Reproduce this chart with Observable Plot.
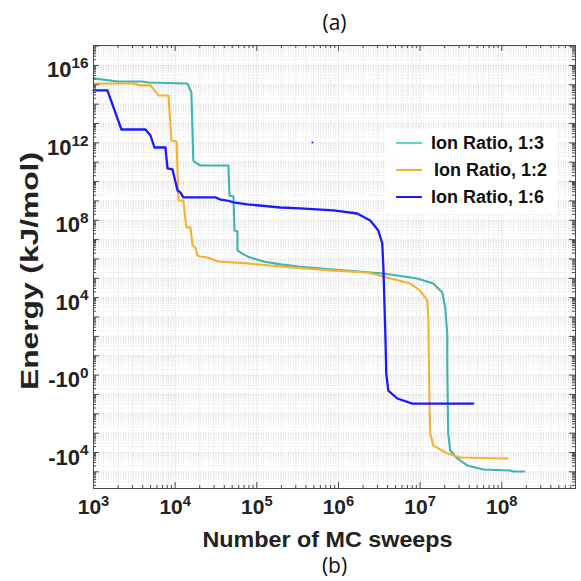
<!DOCTYPE html>
<html><head><meta charset="utf-8">
<script src="https://cdn.jsdelivr.net/npm/d3@7"></script>
<script src="https://cdn.jsdelivr.net/npm/@observablehq/plot@0.6"></script>
<style>
html,body{margin:0;padding:0;background:#fff;}
#wrap{position:relative;width:581px;height:581px;overflow:hidden;}
#legend{position:absolute;left:386px;top:128px;width:172px;height:86px;background:#fff;font:bold 18px "Liberation Sans",Arial,sans-serif;color:#111;}
.item{position:absolute;left:0;height:22px;display:flex;align-items:center;white-space:nowrap;}
.swatch{width:26px;height:0;border-top:2.5px solid;margin-left:10px;margin-right:9px;}
</style></head><body>
<div id="wrap"><div id="chart"></div><div id="legend"></div></div>
<script>
// ---- data (x = number of MC sweeps, y = decade position on the energy axis) ----
const seriesNames = ["Ion Ratio, 1:3", "Ion Ratio, 1:2", "Ion Ratio, 1:6"];
const seriesColors = ["#3db6ad", "#f4b234", "#1a1aff"];
const legendColors = ["#4fd8d0", "#f4b234", "#1a1aff"];

const sweeps13 = [1000,1970,3980,4710,14100,15800,16700,17700,20400,44900,46200,51800,53200,57900,57900,66700,76700,90800,121000,195000,342000,796000,3.55e6,9.25e6,1.45e7,1.87e7,2.03e7,2.15e7,2.15e7,2.21e7,2.34e7,2.85e7,3.78e7,5.94e7,1.27e8,1.38e8,1.88e8];
const energy13 = [15.33,15.17,15.17,15.12,15.07,14.60,11.09,10.99,10.83,10.83,9.28,9.23,7.47,7.42,6.44,6.28,6.13,6.03,5.87,5.72,5.60,5.46,5.25,4.99,4.73,4.27,3.49,2.15,0.39,-3.02,-3.90,-4.31,-4.67,-4.88,-4.93,-4.98,-4.98];

const sweeps12 = [1000,3090,3760,4990,6250,8280,9020,10400,11000,12600,13700,15400,16300,17700,18700,20400,24800,33900,76700,195000,796000,2.26e6,7.59e6,1.00e7,1.22e7,1.26e7,1.30e7,1.33e7,1.45e7,2.15e7,3.10e7,1.17e8];
const energy12 = [15.07,15.07,14.97,14.97,14.45,14.45,12.12,12.07,9.02,9.02,7.63,7.63,6.70,6.59,6.18,6.13,6.08,5.87,5.77,5.61,5.41,5.30,4.73,4.37,3.86,2.98,-1.31,-3.02,-3.64,-4.05,-4.26,-4.31];

const sweeps16 = [1000,1480,2200,4330,4990,5580,7600,8050,9270,10700,11600,12600,31100,35800,43700,51800,76700,195000,342000,867000,1.70e6,2.45e6,3.08e6,3.44e6,3.55e6,3.75e6,3.85e6,4.08e6,5.26e6,8.04e6,4.48e7];
const energy16 = [14.71,14.71,12.69,12.69,12.38,11.76,11.76,10.68,10.63,9.54,9.44,9.18,9.18,9.07,9.02,8.92,8.82,8.66,8.61,8.51,8.35,7.99,7.47,6.80,5.56,2.15,0.08,-0.80,-1.21,-1.47,-1.47];

const strayX = [4.8e5];
const strayY = [12.02];

const xTicks = [1e3,1e4,1e5,1e6,1e7,1e8];
const xTickLabels = ["10^3","10^4","10^5","10^6","10^7","10^8"];
const yTicks = [16,12,8,4,0,-4];
const yTickLabels = ["10^16","10^12","10^8","10^4","-10^0","-10^4"];

// ---- derived tables ----
const series = [[sweeps13, energy13],[sweeps12, energy12],[sweeps16, energy16]];
const rows = series.map(([xs, ys], i) => xs.map((x, j) => ({x, y: ys[j], s: seriesNames[i]})));

const xDomain = [1e3, 8e8], yDomain = [-5.86, 17.03];
const xMinor = [], xDecades = [];
for (let d = 3; d <= 8; d++) { xDecades.push(10 ** d); for (let k = 2; k <= 9; k++) { const v = k * 10 ** d; if (v < xDomain[1]) xMinor.push(v); } }
const yDecades = [], yMinor = [];
for (let d = -6; d <= 17; d++) { if (d >= yDomain[0] && d <= yDomain[1]) yDecades.push(d); for (let k = 2; k <= 9; k++) { const v = d + Math.log10(k); if (v > yDomain[0] && v < yDomain[1]) yMinor.push(v); } }

const W = 581, H = 581, mL = 93, mR = 6, mT = 45, mB = 93;
const pw = W - mL - mR, ph = H - mT - mB;
const frameColor = "#4a4a4a";
const font = "'Liberation Sans', Arial, sans-serif";

const xLab = new Map(xTicks.map((t, i) => [t, xTickLabels[i]]));
const yLab = new Map(yTicks.map((t, i) => [t, yTickLabels[i]]));

const chart = Plot.plot({
  width: W, height: H,
  marginLeft: mL, marginRight: mR, marginTop: mT, marginBottom: mB,
  style: {fontFamily: font, background: "transparent", overflow: "visible"},
  x: {type: "log", domain: xDomain},
  y: {type: "linear", domain: yDomain},
  marks: [
    Plot.ruleX(xMinor, {stroke: "#dcdcdc", strokeWidth: 0.8, strokeDasharray: "1,1.5"}),
    Plot.ruleX(xDecades, {stroke: "#c8c8c8", strokeWidth: 0.8, strokeDasharray: "1,1.5"}),
    Plot.ruleY(yMinor, {stroke: "#dcdcdc", strokeWidth: 0.8, strokeDasharray: "1,1.5"}),
    Plot.ruleY(yDecades, {stroke: "#c8c8c8", strokeWidth: 0.8, strokeDasharray: "1,1.5"}),
    ...rows.map((r, i) => Plot.line(r, {x: "x", y: "y", stroke: seriesColors[i], strokeWidth: i === 2 ? 2.3 : 2.1, curve: "linear"})),
    Plot.dot(strayX.map((x, i) => ({x, y: strayY[i]})), {x: "x", y: "y", r: 1, fill: "#1a1aff"}),
    // inward ticks (all four sides)
    Plot.tickX(xDecades, {x: d => d, stroke: frameColor, insetTop: ph - 6}),
    Plot.tickX(xDecades, {x: d => d, stroke: frameColor, insetBottom: ph - 6}),
    Plot.tickX(xMinor, {x: d => d, stroke: frameColor, insetTop: ph - 3}),
    Plot.tickX(xMinor, {x: d => d, stroke: frameColor, insetBottom: ph - 3}),
    Plot.tickY(yDecades, {y: d => d, stroke: frameColor, insetRight: pw - 6}),
    Plot.tickY(yDecades, {y: d => d, stroke: frameColor, insetLeft: pw - 6}),
    Plot.tickY(yMinor, {y: d => d, stroke: frameColor, insetRight: pw - 3}),
    Plot.tickY(yMinor, {y: d => d, stroke: frameColor, insetLeft: pw - 3}),
    Plot.frame({stroke: frameColor, strokeWidth: 1}),
    Plot.axisX(xTicks, {anchor: "bottom", tickSize: 0, tickPadding: 11, tickFormat: d => xLab.get(d), fontSize: 21, fontWeight: "bold", fill: "#222", label: null}),
    Plot.axisY(yTicks, {anchor: "left", tickSize: 0, tickPadding: 5, tickFormat: d => yLab.get(d), fontSize: 22, fontWeight: "bold", fill: "#222", dy: 5, label: null}),
    Plot.text(["Number of MC sweeps"], {frameAnchor: "bottom", dx: -7, dy: 51, fontSize: 22.5, fontWeight: "bold", fill: "#222", lineAnchor: "middle", textAnchor: "middle", className: "xlabel"}),
    Plot.text(["Energy (kJ/mol)"], {frameAnchor: "left", dx: -63, dy: 4, rotate: -90, fontSize: 24, fontWeight: "bold", fill: "#222", lineAnchor: "middle", textAnchor: "middle", className: "ylabel"}),
    Plot.text(["(a)"], {frameAnchor: "top", dy: -22, fontSize: 21, fontFamily: "'Open Sans', sans-serif", fill: "#111", lineAnchor: "middle", textAnchor: "middle"}),
    Plot.text(["(b)"], {frameAnchor: "bottom", dy: 78, fontSize: 21, fontFamily: "'Open Sans', sans-serif", fill: "#111", lineAnchor: "middle", textAnchor: "middle"})
  ]
});

// superscript exponents in tick labels
chart.querySelectorAll("text").forEach(t => {
  const m = /^(-?10)\^(-?\d+)$/.exec(t.textContent.trim());
  if (m) t.innerHTML = `${m[1]}<tspan font-size="0.7em" dy="-0.6em">${m[2]}</tspan>`;
});
// stretch the axis titles to the reference's width
chart.querySelectorAll(".xlabel text").forEach(t => { t.setAttribute("textLength", 250); t.setAttribute("lengthAdjust", "spacingAndGlyphs"); });
chart.querySelectorAll(".ylabel text").forEach(t => { t.setAttribute("textLength", 238); t.setAttribute("lengthAdjust", "spacingAndGlyphs"); });
document.getElementById("chart").appendChild(chart);

// legend
const lg = document.getElementById("legend");
const itemTops = [4, 31, 58];
seriesNames.forEach((name, i) => {
  const it = document.createElement("div");
  it.className = "item";
  it.style.top = itemTops[i] + "px";
  it.innerHTML = `<span class="swatch" style="border-color:${legendColors[i]}"></span><span style="padding-left:${i === 1 ? 3 : 0}px">${name}</span>`;
  lg.appendChild(it);
});
</script>
</body></html>
